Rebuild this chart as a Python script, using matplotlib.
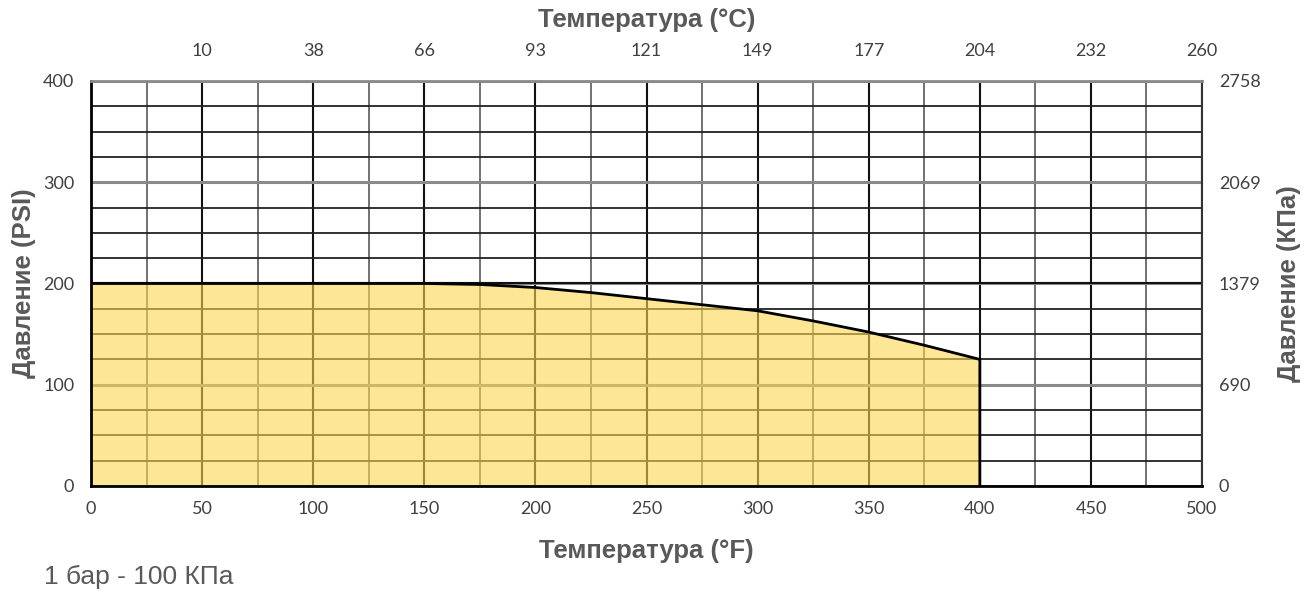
import numpy as np
import matplotlib.pyplot as plt

# pressure / temperature rating curve
temp_f = [0, 150, 175, 200, 225, 250, 275, 300, 325, 350, 375, 400]
psi = [200, 200, 199, 196, 191, 185, 179, 173, 163, 152, 139, 125]

f_ticks = [0, 50, 100, 150, 200, 250, 300, 350, 400, 450, 500]
c_labels = ['10', '38', '66', '93', '121', '149', '177', '204', '232', '260']
psi_ticks = [0, 100, 200, 300, 400]
kpa_labels = ['0', '690', '1379', '2069', '2758']

plt.rcParams['font.family'] = ['Lato', 'DejaVu Sans']
title_font = ['Liberation Sans', 'DejaVu Sans']

fig = plt.figure(figsize=(13.06, 5.91), dpi=100)
ax = fig.add_axes([0.0697, 0.1777, 0.8507, 0.6853])

ax.set_xlim(0, 500)
ax.set_ylim(0, 400)
ax.set_xticks(f_ticks)
ax.set_xticks(np.arange(25, 500, 50), minor=True)
ax.set_yticks(psi_ticks)
ax.set_yticks(np.arange(25, 400, 25), minor=True)
ax.set_axisbelow(True)

ax.grid(which='major', axis='x', color='#111111', lw=1.5)
ax.grid(which='minor', axis='x', color='#666666', lw=1.3)
ax.grid(which='major', axis='y', color='#8a8a8a', lw=2.2)
ax.grid(which='minor', axis='y', color='#222222', lw=1.3)
# 200 psi line is drawn black
ax.axhline(200, color='#111111', lw=1.5, zorder=0.6)

ax.fill_between(temp_f, psi, 0, color='#fcd650', alpha=0.6, lw=0, zorder=1)
ax.plot(temp_f + [temp_f[-1]], psi + [0], color='black', lw=2, zorder=3)

ax.tick_params(which='both', length=0, labelsize=13, labelcolor='#404040')
ax.tick_params(axis='x', pad=11)
ax.tick_params(axis='y', pad=12)
for side in ['left', 'bottom']:
    ax.spines[side].set_color('black')
    ax.spines[side].set_linewidth(2)
ax.spines['top'].set_color('#8a8a8a')
ax.spines['top'].set_linewidth(2)
ax.spines['right'].set_color('#333333')
ax.spines['right'].set_linewidth(1.5)

ax.set_xlabel('Температура (°F)', fontsize=18.5, fontweight='bold', color='#595959',
              family=title_font, labelpad=16)
ax.set_ylabel('Давление (PSI)', fontsize=18.5, fontweight='bold', color='#595959',
              family=title_font, labelpad=5)

top = ax.twiny()
top.set_xlim(ax.get_xlim())
top.set_xticks(f_ticks[1:])
top.set_xticklabels(c_labels)
top.tick_params(length=0, labelsize=13, labelcolor='#404040', pad=16)
top.set_xlabel('Температура (°C)', fontsize=18.5, fontweight='bold', color='#595959',
               family=title_font, labelpad=11)
for s in top.spines.values():
    s.set_visible(False)

right = ax.twinx()
right.set_ylim(ax.get_ylim())
right.set_yticks(psi_ticks)
right.set_yticklabels(kpa_labels)
right.tick_params(length=0, labelsize=13, labelcolor='#404040', pad=12)
right.set_ylabel('Давление (КПа)', fontsize=18.5, fontweight='bold', color='#595959',
                 family=title_font, labelpad=12)
for s in right.spines.values():
    s.set_visible(False)

fig.text(0.034, 0.012, '1 бар - 100 КПа', fontsize=19, color='#595959',
         family=title_font)

fig.savefig('out.png', dpi=100)
